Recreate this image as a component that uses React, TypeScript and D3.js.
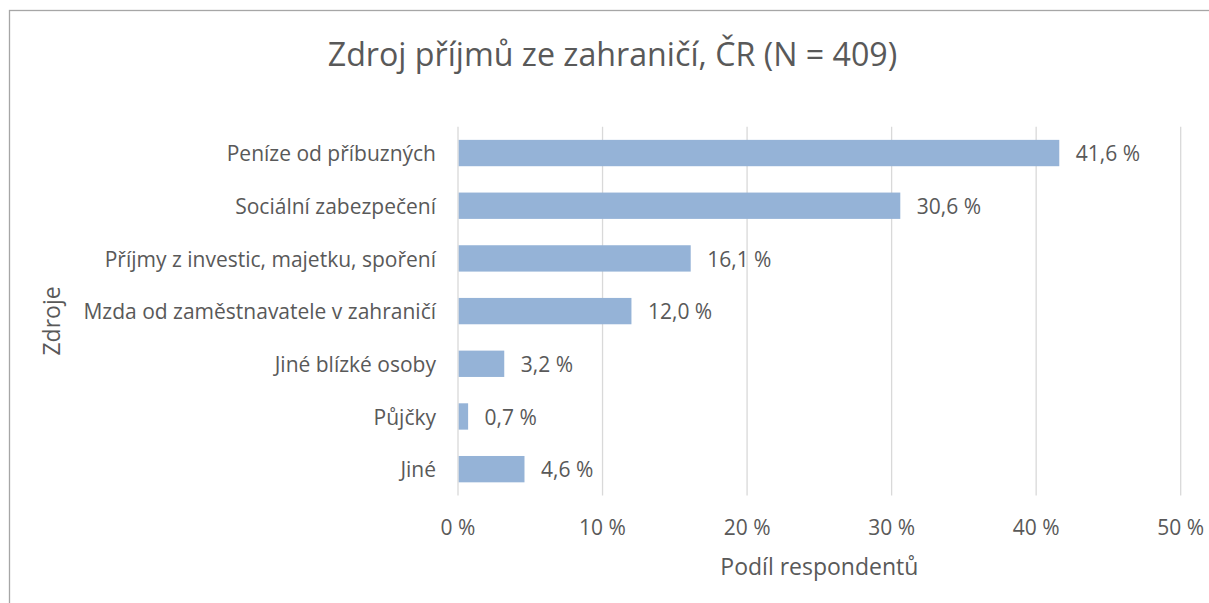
import React from "react";
import * as d3 from "d3";

const categories = [
  "Peníze od příbuzných",
  "Sociální zabezpečení",
  "Příjmy z investic, majetku, spoření",
  "Mzda od zaměstnavatele v zahraničí",
  "Jiné blízké osoby",
  "Půjčky",
  "Jiné",
];
const values = [41.6, 30.6, 16.1, 12.0, 3.2, 0.7, 4.6];
const xTicks = [0, 10, 20, 30, 40, 50];
const title = "Zdroj příjmů ze zahraničí, ČR (N = 409)";
const xTitle = "Podíl respondentů";
const yTitle = "Zdroje";

const W = 1209;
const H = 603;
const FONT = "'Open Sans', Lato, sans-serif";
const TEXT = "#595959";

export default function App() {
  const x = d3.scaleLinear().domain([0, 50]).range([458, 1180.7]);
  const y = d3
    .scaleBand<string>()
    .domain(categories)
    .range([126.7, 495.5])
    .paddingInner(0.5)
    .paddingOuter(0.25);
  const fmt = (v: number) => d3.format(".1f")(v).replace(".", ",") + " %";
  const [y0, y1] = y.range();

  return (
    <svg
      width={W}
      height={H}
      style={{ position: "absolute", left: 0, top: 0, background: "#fff" }}
      fontFamily={FONT}
    >
      <rect x={0} y={0} width={W} height={H} fill="#fff" />
      <rect
        x={9.5}
        y={10.5}
        width={W + 20}
        height={H + 20}
        fill="none"
        stroke="#a6a6a6"
        strokeWidth={1.3}
      />
      <text x={612.5} y={65.5} textAnchor="middle" fontSize={32.2} fill={TEXT}>
        {title}
      </text>
      {xTicks.map((t) => (
        <line
          key={t}
          x1={x(t)}
          x2={x(t)}
          y1={y0}
          y2={y1}
          stroke="#d9d9d9"
          strokeWidth={1.3}
        />
      ))}
      {categories.map((c, i) => {
        const by = y(c)!;
        const cy = by + y.bandwidth() / 2;
        return (
          <g key={c}>
            <rect
              x={x(0) + 0.7}
              y={by}
              width={x(values[i]) - x(0) - 0.7}
              height={y.bandwidth()}
              fill="#95b3d7"
            />
            <text
              x={436}
              y={cy + 8.3}
              textAnchor="end"
              fontSize={21}
              fill={TEXT}
            >
              {c}
            </text>
            <text
              x={x(values[i]) + 16.5}
              y={cy + 8.3}
              fontSize={21}
              fill={TEXT}
            >
              {fmt(values[i])}
            </text>
          </g>
        );
      })}
      {xTicks.map((t) => (
        <text
          key={"l" + t}
          x={x(t)}
          y={535}
          textAnchor="middle"
          fontSize={21}
          fill={TEXT}
        >
          {t + " %"}
        </text>
      ))}
      <text
        x={(x(0) + x(50)) / 2}
        y={575}
        textAnchor="middle"
        fontSize={23}
        fill={TEXT}
      >
        {xTitle}
      </text>
      <text
        transform={`translate(60,321) rotate(-90)`}
        textAnchor="middle"
        fontSize={23}
        fill={TEXT}
      >
        {yTitle}
      </text>
    </svg>
  );
}
